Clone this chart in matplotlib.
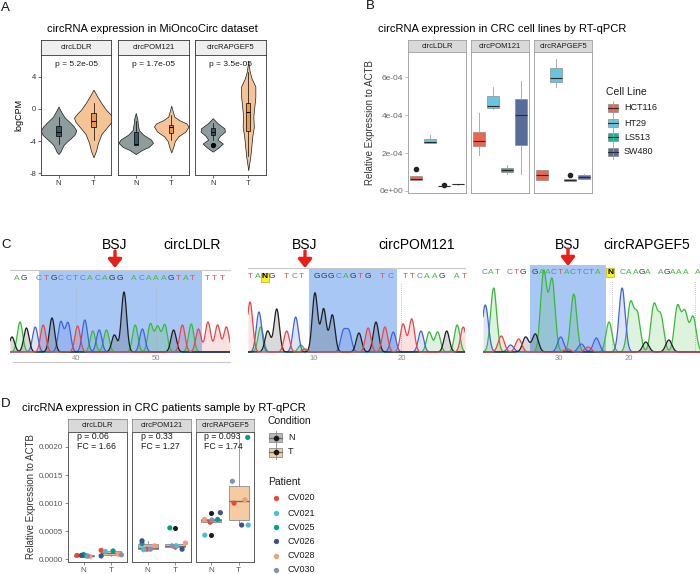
import numpy as np
import matplotlib
matplotlib.use('Agg')
import matplotlib.pyplot as plt
from matplotlib.patches import Rectangle

plt.rcParams['font.family'] = ['Liberation Sans', 'DejaVu Sans']
plt.rcParams['axes.unicode_minus'] = False

# ======================= DATA =======================
facets = ['circLDLR', 'circPOM121', 'circRAPGEF5']
conditions = ['N', 'T']

# ---- Panel A: MiOncoCirc logCPM (violin profiles: level, density) ----
a_pvalues = ['p = 5.2e-05', 'p = 1.7e-05', 'p = 3.5e-05']
a_yticks = [-8, -4, 0, 4]
ldlr_N_y = [0.3, -0.3, -1.0, -1.7, -2.2, -2.7, -3.2, -3.7, -4.1, -4.5, -5.0, -5.3, -5.6]
ldlr_N_d = [0, 2.5, 5.8, 11.7, 15.5, 17.8, 16, 11.7, 8, 5, 3, 2, 0]
ldlr_T_y = [2.4, 1.5, 0.7, -0.1, -0.6, -1.1, -1.6, -2.2, -3.1, -4.2, -5.2, -6.0]
ldlr_T_d = [0, 4, 8, 12.5, 16.5, 19.5, 18, 14, 8, 4.5, 2.5, 0]
pom_N_y = [-0.5, -1.2, -1.8, -2.6, -3.2, -3.8, -4.2, -4.7, -5.1, -5.6]
pom_N_d = [0, 1.5, 2, 3, 7.5, 15, 17, 13, 6, 0]
pom_T_y = [0.4, -0.3, -0.95, -1.4, -1.8, -2.2, -2.8, -3.4, -4.0, -4.7, -5.4]
pom_T_d = [0, 1.5, 3, 8, 15, 17, 14, 7, 3.5, 2, 0]
rap_N_y = [-1.15, -1.8, -2.4, -2.8, -3.35, -3.8, -4.3, -4.75, -5.3]
rap_N_d = [0, 5, 11.5, 12, 7, 4.5, 10, 6, 0]
rap_T_y = [5.9, 4.6, 3.8, 2.8, 1.5, 0.3, -0.95, -2.2, -3.4, -4.7, -5.9, -7.6]
rap_T_d = [0, 1.5, 3.3, 7, 7, 6, 5, 5.5, 4, 3, 2, 0]
# box stats: whislo, q1, med, q3, whishi
a_box_ldlr_N = [-4.3, -3.4, -2.8, -2.1, -0.95]
a_box_ldlr_T = [-3.8, -2.2, -1.45, -0.55, 0.7]
a_box_pom_N = [-4.5, -4.5, -4.35, -2.9, -1.5]
a_box_pom_T = [-3.8, -3.0, -2.2, -2.0, -0.75]
a_box_rap_N = [-3.9, -3.2, -2.8, -2.4, -1.8]
a_box_rap_T = [-5.9, -2.7, -0.4, 0.8, 4.6]
a_out_rap_N = [-4.45]

# ---- Panel B: cell lines RT-qPCR ----
cell_lines = ['HCT116', 'HT29', 'LS513', 'SW480']
b_yticks = [0, 2e-4, 4e-4, 6e-4]
b_yticklabels = ['0e+00', '2e-04', '4e-04', '6e-04']
# per cell line: whislo, q1, med, q3, whishi
b_ldlr = [[5.6e-5, 5.65e-5, 6.5e-5, 7.8e-5, 7.8e-5],
          [2.51e-4, 2.51e-4, 2.59e-4, 2.72e-4, 2.95e-4],
          [2.3e-5, 2.4e-5, 2.5e-5, 2.6e-5, 2.7e-5],
          [3.4e-5, 3.45e-5, 3.5e-5, 3.6e-5, 3.65e-5]]
b_ldlr_out = [[1.18e-4], [], [3.4e-5], []]
b_pom = [[1.89e-4, 2.38e-4, 2.65e-4, 3.09e-4, 4.09e-4],
         [4.32e-4, 4.36e-4, 4.48e-4, 4.98e-4, 5.47e-4],
         [0.92e-4, 1.01e-4, 1.1e-4, 1.22e-4, 1.36e-4],
         [0.88e-4, 2.42e-4, 4.0e-4, 4.85e-4, 5.77e-4]]
b_pom_out = [[], [], [], []]
b_rap = [[5.8e-5, 6.0e-5, 8.5e-5, 1.09e-4, 1.13e-4],
         [5.5e-4, 5.72e-4, 5.95e-4, 6.48e-4, 6.95e-4],
         [5.3e-5, 5.3e-5, 6.0e-5, 6.5e-5, 6.5e-5],
         [6.2e-5, 6.5e-5, 7.5e-5, 8.3e-5, 9.0e-5]]
b_rap_out = [[], [], [8.3e-5], []]

# ---- Panel C: Sanger chromatograms (peak position in base index, height, base) ----
c1_pos = [32.0, 33.0, 33.8, 34.9, 35.9, 37.0, 38.1, 39.0, 40.2, 41.1, 42.1, 42.9, 43.8, 44.8,
          46.0, 47.4, 48.3, 49.3, 50.2, 51.1, 52.2, 53.3, 54.4, 55.3, 56.5, 57.7, 58.8]
c1_h = [15, 30, 24, 25, 27, 34, 30, 29, 26, 32, 21, 22, 22, 17, 60, 27, 23, 28, 25, 27, 22, 27,
        28, 23, 30, 27, 25]
c1_base = 'GAGCTGCCTCACAGGACAAAGTATTTT'
c1_seq = 'AG CTGCCTCACAGG ACAAAGTAT TTT'
c2_pos = [2.67, 3.7, 3.9, 4.7, 5.73, 6.87, 7.9, 8.5, 8.97, 10.11, 11.1, 12.1, 13.36, 14.0,
          15.15, 16.2, 17.1, 18.13, 19.08, 20.2, 21.2, 22.26, 23.2, 24.17, 25.2, 26.4, 27.1]
c2_h = [50, 40, 25, 21, 43, 21, 35, 7, 3, 59, 43, 37, 20, 20, 19, 24, 30, 25, 20, 28, 33, 21,
        20, 20, 21, 27, 25]
c2_base = 'TCAGGTCATGGGCCGTGTCTTCAAGAT'
c2_seq = 'TANG TCT GGGCAGTG TC TTCAAG AT'
c3_pos = [40.57, 39.37, 38.28, 36.93, 35.78, 34.78, 33.40, 32.20, 31.0, 29.76, 28.81, 27.89,
          26.80, 25.84, 24.65, 22.83, 20.96, 19.77, 18.77, 17.56, 16.41, 15.41, 14.26, 13.03,
          11.97, 10.78]
c3_h = [47, 64, 16, 7, 13, 15, 18, 80, 72, 15, 3, 58, 8, 5, 14, 30, 64, 48, 37, 10, 46, 35, 12,
        45, 39, 35]
c3_base = 'CATCTGGAACTACTCACAAGAAGAAA'
c3_seq = 'CAT CTG GAACTACTCTA N CAAGA AGAAA A'

# ---- Panel D: patients RT-qPCR ----
patients = ['CV020', 'CV021', 'CV025', 'CV026', 'CV028', 'CV030']
d_ldlr_N = [7.0e-5, 6.0e-5, 8.5e-5, 7.0e-5, 5.0e-5, 6.0e-5]
d_ldlr_T = [1.6e-4, 1.4e-4, 1.5e-4, 6.0e-5, 9.0e-5, 8.0e-5]
d_pom_N = [1.8e-4, 1.7e-4, 2.8e-4, 3.3e-4, 2.4e-4, 1.8e-4]
d_pom_T = [2.2e-4, 2.4e-4, 5.6e-4, 1.8e-4, 2.9e-4, 2.4e-4]
d_rap_N = [6.6e-4, 4.3e-4, 7.1e-4, 8.3e-4, 7.1e-4, 7.0e-4]
d_rap_T = [1.00e-3, 6.1e-4, 2.17e-3, 6.1e-4, 1.06e-3, 1.39e-3]
d_pvals = ['p = 0.06', 'p = 0.33', 'p = 0.093']
d_fc = ['FC = 1.66', 'FC = 1.27', 'FC = 1.74']
d_yticks = [0, 5e-4, 1e-3, 1.5e-3, 2e-3]
d_yticklabels = ['0.0000', '0.0005', '0.0010', '0.0015', '0.0020']
# horizontal jitter of each patient's point
jit_ldlr_N = [-0.24, 0.10, 0.0, -0.08, 0.22, 0.14]
jit_ldlr_T = [-0.37, -0.22, 0.06, -0.37, 0.25, 0.36]
jit_pom_N = [-0.02, -0.14, -0.2, -0.2, 0.25, 0.10]
jit_pom_T = [0.0, 0.04, -0.2, 0.24, 0.36, -0.12]
jit_rap_N = [-0.04, -0.24, 0.23, 0.33, -0.25, 0.02]
jit_rap_T = [-0.17, 0.35, 0.33, 0.11, 0.23, -0.23]

# ======================= STYLE =======================
npg = ['#E64B35', '#4DBBD5', '#00A087', '#3C5488', '#F39B7F', '#8491B4']
a_violin_cols = ['#8F9C9E', '#F4C497']
a_box_cols = ['#3E5660', '#EE9A4E']
d_box_cols = ['#B9B9B9', '#F5CBA2']
base_col = {'A': '#39B939', 'C': '#3F63D8', 'G': '#1E1E1E', 'T': '#E44848'}
seq_col = {'A': '#45B845', 'C': '#5A7BDC', 'G': '#333333', 'T': '#E05252', 'N': '#000000'}

W, H = 700, 574
fig = plt.figure(figsize=(W / 100, H / 100), dpi=100)


def ax_px(x0, y0, x1, y1):
    return fig.add_axes([x0 / W, 1 - y1 / H, (x1 - x0) / W, (y1 - y0) / H])


def strip(x0, y0, x1, y1, label, fc, ec, fs=5.5):
    s = ax_px(x0, y0, x1, y1)
    s.set_facecolor(fc)
    s.set_xticks([]); s.set_yticks([])
    for sp in s.spines.values():
        sp.set_color(ec); sp.set_linewidth(0.6)
    s.text(0.5, 0.5, label, ha='center', va='center', fontsize=fs, color='#1A1A1A',
           transform=s.transAxes)


def style_spines(ax, col, lw=0.6):
    for sp in ax.spines.values():
        sp.set_color(col); sp.set_linewidth(lw)


# ======================= PANEL A =======================
a_violins = [[(ldlr_N_y, ldlr_N_d), (ldlr_T_y, ldlr_T_d)],
             [(pom_N_y, pom_N_d), (pom_T_y, pom_T_d)],
             [(rap_N_y, rap_N_d), (rap_T_y, rap_T_d)]]
a_boxes = [[a_box_ldlr_N, a_box_ldlr_T], [a_box_pom_N, a_box_pom_T], [a_box_rap_N, a_box_rap_T]]
a_fliers = [[[], []], [[], []], [a_out_rap_N, []]]
a_xr = [(41, 111), (118, 189), (195, 266)]
keys = ['whislo', 'q1', 'med', 'q3', 'whishi']
for i, f in enumerate(facets):
    x0, x1 = a_xr[i]
    strip(x0, 40, x1, 55, f, '#EFEFEF', '#333333')
    ax = ax_px(x0, 55, x1, 175)
    for j, c in enumerate(conditions):
        ys, ds = a_violins[i][j]
        w = np.array(ds) / 35.0
        ax.fill_betweenx(np.array(ys), j + 1 - w, j + 1 + w, facecolor=a_violin_cols[j],
                         edgecolor='#1A1A1A', linewidth=0.5, zorder=1)
        st = dict(zip(keys, a_boxes[i][j]))
        st['fliers'] = a_fliers[i][j]
        ax.bxp([st], positions=[j + 1], widths=0.12, patch_artist=True, showcaps=False,
               manage_ticks=False,
               boxprops=dict(facecolor=a_box_cols[j], edgecolor='black', linewidth=0.5),
               medianprops=dict(color='black', linewidth=0.8),
               whiskerprops=dict(color='black', linewidth=0.5),
               flierprops=dict(marker='o', markerfacecolor='black', markeredgecolor='black',
                               markersize=2.8))
    ax.set_xlim(0.5, 2.5)
    ax.set_ylim(-8.2, 6.7)
    ax.set_xticks([1, 2]); ax.set_xticklabels(conditions)
    ax.text(1.5, 5.5, a_pvalues[i], ha='center', va='center', fontsize=6, color='#1A1A1A')
    style_spines(ax, '#333333')
    ax.tick_params(length=2, width=0.5, colors='#333333', labelsize=5.5, pad=1.5,
                   labelcolor='#333333')
    if i == 0:
        ax.set_yticks(a_yticks)
        ax.set_ylabel('logCPM', fontsize=6.5, labelpad=4)
    else:
        ax.set_yticks([])

# ======================= PANEL B =======================
b_boxes = [b_ldlr, b_pom, b_rap]
b_outs = [b_ldlr_out, b_pom_out, b_rap_out]
b_xr = [(408, 466), (471, 529), (534, 592)]
for i, f in enumerate(facets):
    x0, x1 = b_xr[i]
    strip(x0, 40, x1, 52, f, '#D9D9D9', '#A0A0A0')
    ax = ax_px(x0, 52, x1, 193)
    for k, cl in enumerate(cell_lines):
        st = dict(zip(keys, b_boxes[i][k]))
        st['fliers'] = b_outs[i][k]
        ax.bxp([st], positions=[k + 1], widths=0.83, patch_artist=True, showcaps=False,
               manage_ticks=False,
               boxprops=dict(facecolor=npg[k], edgecolor='#808080', linewidth=0.5, alpha=0.85),
               medianprops=dict(color='#2B2B2B', linewidth=0.8),
               whiskerprops=dict(color='#A0A0A0', linewidth=0.6),
               flierprops=dict(marker='o', markerfacecolor='#222222', markeredgecolor='#222222',
                               markersize=3))
    ax.set_xlim(0.43, 4.57)
    ax.set_ylim(-1.06e-5, 7.32e-4)
    ax.set_xticks([])
    style_spines(ax, '#9A9A9A')
    ax.tick_params(length=2, width=0.5, colors='#9A9A9A', labelsize=6, pad=1.5,
                   labelcolor='#666666')
    if i == 0:
        ax.set_yticks(b_yticks); ax.set_yticklabels(b_yticklabels)
        ax.set_ylabel('Relative Expression to ACTB', fontsize=7, labelpad=3, color='#333333')
    else:
        ax.set_yticks([])

# ======================= PANEL C =======================
chroms = [
    dict(pos=c1_pos, h=c1_h, base=c1_base, xr=(10, 230), top=270, xlim=(31.75, 59.25),
         blue=(35.4, 55.75), ticks=[40, 50], sig=0.33, dots=[40, 50]),
    dict(pos=c2_pos, h=c2_h, base=c2_base, xr=(248, 465), top=268, xlim=(2.44, 27.3),
         blue=(9.43, 19.5), ticks=[10, 20], sig=0.31, dots=[20]),
    dict(pos=c3_pos, h=c3_h, base=c3_base, xr=(483, 700), top=265, xlim=(40.9, 9.8),
         blue=(34.1, 23.3), ticks=[30, 20], sig=0.44, dots=[22.4, 10.5]),
]
for ci, cd in enumerate(chroms):
    x0, x1 = cd['xr']
    ax = ax_px(x0, cd['top'], x1, 353)
    ax.set_xlim(*cd['xlim'])
    ax.set_ylim(-1, 353 - cd['top'] - 1)
    ax.axvspan(min(cd['blue']), max(cd['blue']), color='#A9C7F5', zorder=0, lw=0)
    xs = np.linspace(min(cd['xlim']), max(cd['xlim']), 2000)
    pos = np.array(cd['pos']); hh = np.array(cd['h'], dtype=float)
    for b in ['A', 'C', 'G', 'T']:
        sel = np.array([ch == b for ch in cd['base']])
        sig = np.zeros_like(xs)
        for p, h in zip(pos[sel], hh[sel]):
            sig += h * np.exp(-0.5 * ((xs - p) / cd['sig']) ** 2)
        ax.fill_between(xs, 0, sig, color=base_col[b], alpha=0.17, lw=0, zorder=1)
        ax.plot(xs, sig, color=base_col[b], lw=0.9, zorder=2 if b != 'T' else 3)
    for d in cd['dots']:
        ax.axvline(d, ymax=0.82, color='#B0B0B0', lw=0.6, ls=(0, (1, 1.5)), zorder=0.5)
    ax.set_xticks(cd['ticks'])
    ax.set_xticklabels([str(t) for t in cd['ticks']])
    ax.tick_params(axis='x', length=0, pad=1.5, labelsize=5.5, labelcolor='#8C8C8C')
    ax.set_yticks([])
    for s in ['left', 'right', 'bottom']:
        ax.spines[s].set_visible(False)
    if ci == 2:
        ax.spines['top'].set_visible(False)
    else:
        ax.spines['top'].set_color('#C8C8C8'); ax.spines['top'].set_linewidth(0.8)
    ax.patch.set_alpha(0)

# ======================= PANEL D =======================
d_data = [[d_ldlr_N, d_ldlr_T], [d_pom_N, d_pom_T], [d_rap_N, d_rap_T]]
d_jit = [[jit_ldlr_N, jit_ldlr_T], [jit_pom_N, jit_pom_T], [jit_rap_N, jit_rap_T]]
d_xr = [(68, 127), (132, 191), (196, 254)]
for i, f in enumerate(facets):
    x0, x1 = d_xr[i]
    strip(x0, 419, x1, 432, f, '#D9D9D9', '#8C8C8C')
    ax = ax_px(x0, 432, x1, 562)
    bp = ax.boxplot(d_data[i], positions=[1, 2], widths=0.72, patch_artist=True,
                    manage_ticks=False, showcaps=False, whis=1.5,
                    medianprops=dict(color='#6E6E6E', linewidth=1.0),
                    whiskerprops=dict(color='#8C8C8C', linewidth=0.6),
                    flierprops=dict(marker='o', markerfacecolor='#1A1A1A',
                                    markeredgecolor='#1A1A1A', markersize=2.6))
    for j, patch in enumerate(bp['boxes']):
        patch.set_facecolor(d_box_cols[j]); patch.set_edgecolor('#8C8C8C')
        patch.set_linewidth(0.6)
    for j in range(2):
        xs = (j + 1) + np.array(d_jit[i][j])
        ax.scatter(xs, d_data[i][j], c=npg, s=14, linewidths=0, zorder=3)
    ax.set_xlim(0.44, 2.56)
    ax.set_ylim(-4.75e-5, 2.267e-3)
    ax.set_xticks([1, 2]); ax.set_xticklabels(conditions)
    ax.text(0.75, 2.19e-3, d_pvals[i], ha='left', va='center', fontsize=6.3, color='#1A1A1A')
    ax.text(0.75, 2.0e-3, d_fc[i], ha='left', va='center', fontsize=6.3, color='#1A1A1A')
    style_spines(ax, '#5A5A5A', 0.7)
    ax.tick_params(length=2, width=0.5, colors='#5A5A5A', labelsize=5.8, pad=1.5,
                   labelcolor='#555555')
    if i == 0:
        ax.set_yticks(d_yticks); ax.set_yticklabels(d_yticklabels)
        ax.set_ylabel('Relative Expression to ACTB', fontsize=7, labelpad=2, color='#333333')
    else:
        ax.set_yticks([])

# ======================= OVERLAY (text, arrows, legends) =======================
ov = fig.add_axes([0, 0, 1, 1])
ov.set_xlim(0, W); ov.set_ylim(H, 0); ov.axis('off'); ov.patch.set_alpha(0)

for lab, (x, y) in zip('ABCD', [(1, 8), (366, 6), (1, 245), (1, 404)]):
    ov.text(x, y, lab, fontsize=9.5, ha='left', va='center', color='#111111')

ov.text(47, 29, 'circRNA expression in MiOncoCirc dataset', fontsize=8, va='center')
ov.text(378, 29, 'circRNA expression in CRC cell lines by RT-qPCR', fontsize=8, va='center')
ov.text(22, 408, 'circRNA expression in CRC patients sample by RT-qPCR', fontsize=8,
        va='center')

# C headers, arrows, sequences
for bx, name, nx, ay0 in [(115, 'circLDLR', 163, 251), (305, 'circPOM121', 378, 251),
                         (568, 'circRAPGEF5', 603, 249)]:
    ov.text(bx, 245, 'BSJ', fontsize=10, ha='center', va='center')
    ov.text(nx, 245, name, fontsize=10, ha='left', va='center')
    ov.annotate('', xy=(bx, ay0 + 17), xytext=(bx, ay0),
                arrowprops=dict(arrowstyle='-|>,head_width=0.4,head_length=0.5',
                                color='#E8201A', lw=2.4, shrinkA=0, shrinkB=0))

for seq, xa, xb, y in [(c1_seq, 17, 222, 278), (c2_seq, 250, 464, 277), (c3_seq, 485, 698, 272)]:
    n = len(seq)
    for k, ch in enumerate(seq):
        if ch == ' ':
            continue
        x = xa + (xb - xa) * k / (n - 1)
        kw = {}
        if ch == 'N':
            kw['bbox'] = dict(boxstyle='square,pad=0.12', fc='#F6F224', ec='#A0A000', lw=0.4)
        ov.text(x, y, ch, fontsize=6, ha='center', va='center', color=seq_col[ch],
                fontweight='bold' if ch == 'N' else 'normal', **kw)

ov.plot([13, 230], [362, 362], color='#C8C8C8', lw=0.8)

# B legend
ov.text(606, 92, 'Cell Line', fontsize=7.5, va='center', color='#1A1A1A')
for k, (cl, y) in enumerate(zip(cell_lines, [108, 123, 137, 152])):
    ov.plot([613, 613], [y - 7, y + 7], color='#A0A0A0', lw=0.6)
    ov.add_patch(Rectangle((608, y - 4), 10, 8, facecolor=npg[k], edgecolor='#808080',
                           lw=0.5, alpha=0.85))
    ov.plot([608, 618], [y, y], color='#2B2B2B', lw=0.8)
    ov.text(624, y, cl, fontsize=6.5, va='center', color='#1A1A1A')

# D legend
ov.text(268, 421, 'Condition', fontsize=7.5, va='center', color='#1A1A1A')
for j, (c, y) in enumerate(zip(conditions, [437.5, 452])):
    ov.plot([275.5, 275.5], [y - 7, y + 7], color='#8C8C8C', lw=0.6)
    ov.add_patch(Rectangle((269, y - 4.5), 13, 9, facecolor=d_box_cols[j], edgecolor='#8C8C8C',
                           lw=0.6))
    ov.plot([269, 282], [y, y], color='#6E6E6E', lw=0.9)
    ov.plot([275.5], [y], 'o', color='#1A1A1A', ms=3)
    ov.text(288, y, c, fontsize=6.5, va='center', color='#1A1A1A')
ov.text(268, 482, 'Patient', fontsize=7.5, va='center', color='#1A1A1A')
for k, (p, y) in enumerate(zip(patients, [498, 513, 527, 541, 556, 570])):
    ov.plot([275.5], [y], 'o', color=npg[k], ms=3.8, mec='none')
    ov.text(288, y, p, fontsize=6.5, va='center', color='#1A1A1A')

fig.savefig('out.png', dpi=100)
